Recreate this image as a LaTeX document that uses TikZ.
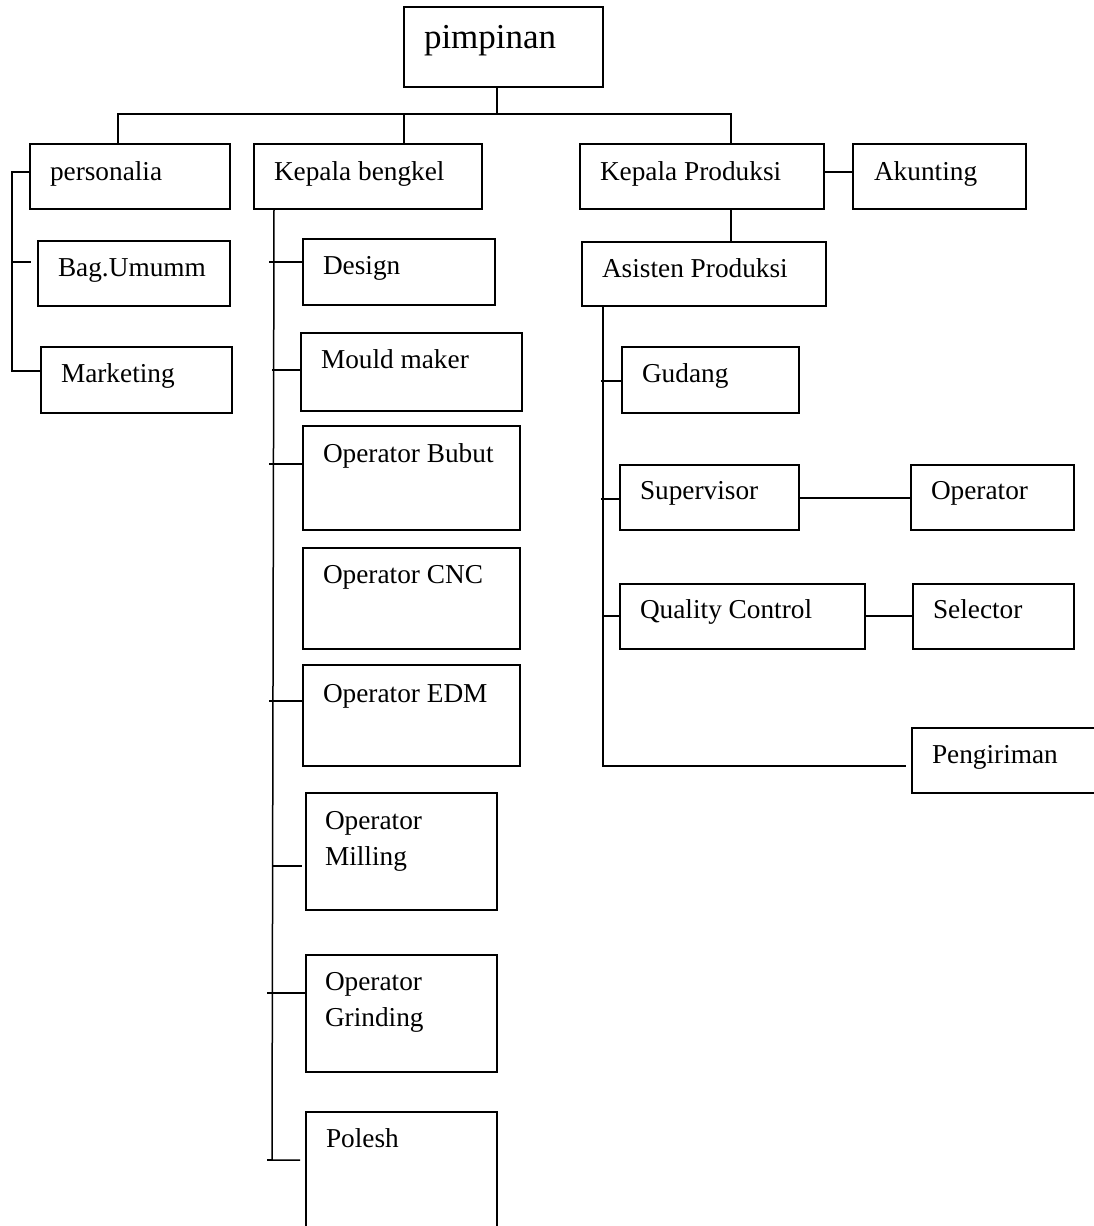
\documentclass[tikz,border=0pt]{standalone}
\usepackage{fontspec}
\setmainfont{Liberation Serif}
\begin{document}
\begin{tikzpicture}[x=1pt,y=-1pt,
  box/.style={draw, line width=1.5pt, anchor=north west, inner sep=0pt, outer sep=0pt},
  lbl/.style={anchor=base west, inner sep=0pt, outer sep=0pt, align=left, font=\fontsize{27.3}{36}\selectfont},
  big/.style={anchor=base west, inner sep=0pt, outer sep=0pt, font=\fontsize{35}{42}\selectfont},
  conn/.style={line width=1.5pt}]
\useasboundingbox (0,0) rectangle (1093,1226);
% boxes
\newcommand{\bx}[5]{\node[box, minimum width=#4pt-#2pt, minimum height=#5pt-#3pt] (#1) at (#2,#3) {};}
\bx{pim}{404}{7}{603}{87}
\bx{pers}{30}{144}{230}{209}
\bx{kb}{254}{144}{482}{209}
\bx{kp}{580}{144}{824}{209}
\bx{ak}{853}{144}{1026}{209}
\bx{ap}{582}{242}{826}{306}
\bx{bag}{38}{241}{230}{306}
\bx{des}{303}{239}{495}{305}
\bx{mkt}{41}{347}{232}{413}
\bx{mould}{301}{333}{522}{411}
\bx{bubut}{303}{426}{520}{530}
\bx{cnc}{303}{548}{520}{649}
\bx{edm}{303}{665}{520}{766}
\bx{mill}{306}{793}{497}{910}
\bx{grind}{306}{955}{497}{1072}
\bx{pol}{306}{1112}{497}{1240}
\bx{gud}{622}{347}{799}{413}
\bx{sup}{620}{465}{799}{530}
\bx{op}{911}{465}{1074}{530}
\bx{qc}{620}{584}{865}{649}
\bx{sel}{913}{584}{1074}{649}
\bx{peng}{912}{728}{1100}{793}
% texts
\node[big] (tpim) at (424,48) {pimpinan};
\node[lbl] (tpers) at (50,180) {personalia};
\node[lbl] (tkb) at (274,180) {Kepala bengkel};
\node[lbl] (tkp) at (600,180) {Kepala Produksi};
\node[lbl] (tak) at (874,180) {Akunting};
\node[lbl] (tap) at (602,277) {Asisten Produksi};
\node[lbl] (tbag) at (58,276) {Bag.Umumm};
\node[lbl] (tdes) at (323,274) {Design};
\node[lbl] (tmkt) at (61,382) {Marketing};
\node[lbl] (tmould) at (321,368) {Mould maker};
\node[lbl] (tbubut) at (323,462) {Operator Bubut};
\node[lbl] (tcnc) at (323,583) {Operator CNC};
\node[lbl] (tedm) at (323,702) {Operator EDM};
\node[lbl] (tmill) at (325,865) {Operator\\Milling};
\node[lbl] (tgrind) at (325,1026) {Operator\\Grinding};
\node[lbl] (tpol) at (326,1147) {Polesh};
\node[lbl] (tgud) at (642,382) {Gudang};
\node[lbl] (tsup) at (640,499) {Supervisor};
\node[lbl] (top) at (931,499) {Operator};
\node[lbl] (tqc) at (640,618) {Quality Control};
\node[lbl] (tsel) at (933,618) {Selector};
\node[lbl] (tpeng) at (932,763) {Pengiriman};
% trunk coordinates
\coordinate (bus) at (497,114);
\coordinate (ptrunk) at (12,371);
\coordinate (kbtrunk) at (272,1160);
\coordinate (aptrunk) at (603,766);
% top level
\draw[conn] (pim.south -| bus) -- (bus);
\draw[conn] (pers.north -| 118,0) |- (bus) -| (kp.north -| 731,0);
\draw[conn] (bus -| kb.west) ++(150,0) -- (kb.north -| 404,0);
\draw[conn] (kp.south -| 731,0) -- (ap.north -| 731,0);
\draw[conn] (kp.east |- 0,172) -- (ak.west |- 0,172);
% personalia branch
\draw[conn] (pers.west |- 0,172) -| (ptrunk) -- (mkt.west |- ptrunk);
\draw[conn] (ptrunk |- 0,262) -- (31,262);
% kepala bengkel branch
\draw[conn] (kb.south -| 274,0) -- (kbtrunk) -- (kbtrunk -| 300,0);
\draw[conn] (269,262) -- (des.west |- 0,262);
\draw[conn] (kbtrunk |- 0,370) -- (mould.west |- 0,370);
\draw[conn] (269,464) -- (bubut.west |- 0,464);
\draw[conn] (269,701) -- (edm.west |- 0,701);
\draw[conn] (kbtrunk |- 0,866) -- (302,866);
\draw[conn] (267,993) -- (grind.west |- 0,993);
\draw[conn] (267,1160) -- (kbtrunk);
% asisten branch
\draw[conn] (ap.south -| aptrunk) -- (aptrunk) -- (906,766);
\draw[conn] (601,381) -- (gud.west |- 0,381);
\draw[conn] (601,499) -- (sup.west |- 0,499);
\draw[conn] (aptrunk |- 0,616) -- (qc.west |- 0,616);
\draw[conn] (sup.east |- 0,498) -- (op.west |- 0,498);
\draw[conn] (qc.east |- 0,616) -- (sel.west |- 0,616);
\end{tikzpicture}
\end{document}
